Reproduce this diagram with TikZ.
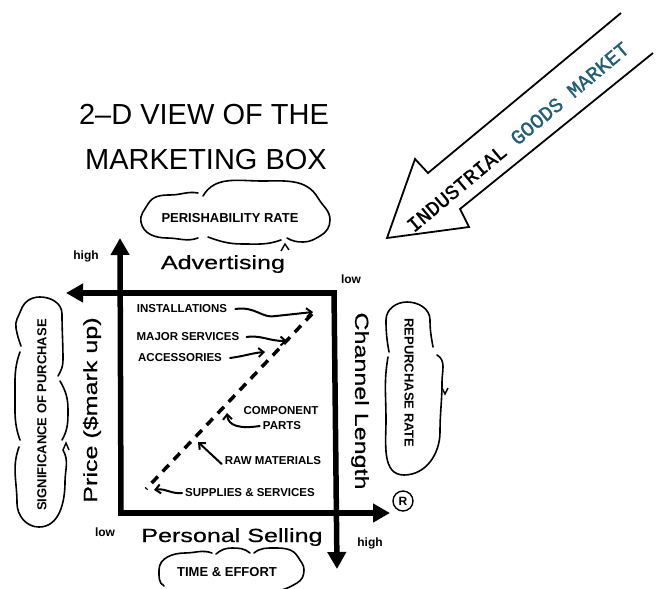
\documentclass[tikz,border=0pt]{standalone}
\usepackage{fontspec}
\setmainfont{Liberation Sans}
\newfontfamily\labelfont[FakeStretch=1.32,FakeBold=0.6]{Liberation Sans}
\newfontfamily\typefont[FakeBold=1.2]{Liberation Mono}
\usetikzlibrary{arrows.meta}
\definecolor{tealink}{RGB}{35,95,115}
\tikzset{
  axis/.style={line width=5.5pt, -{Triangle[length=17pt,width=18pt]}},
  cloudline/.style={line width=1.6pt, line cap=round},
  itemarrow/.style={line width=2pt, line cap=round, -{Straight Barb[length=5pt,width=9pt]}},
  smalltxt/.style={font=\bfseries\fontsize{12}{12}\selectfont, inner sep=0pt},
  itemtxt/.style={font=\bfseries\fontsize{11.5}{12}\selectfont, inner sep=0pt},
  cloudtxt/.style={font=\bfseries\fontsize{13}{13}\selectfont, inner sep=0pt},
  biglabel/.style={font=\labelfont\fontsize{19}{19}\selectfont, inner sep=0pt},
  titletxt/.style={font=\fontsize{29}{29}\selectfont, inner sep=0pt},
  bigarrow/.style={line width=1.8pt, line join=miter},
}
\begin{document}
\begin{tikzpicture}[x=1pt,y=-1pt]
\useasboundingbox (0,0) rectangle (660,588);

% title
\node[titletxt] (title1) at (204,115) {2--D VIEW OF THE};
\node[titletxt] (title2) at (206,160) {MARKETING BOX};

% box corners and arrow tips
\coordinate (TL) at (121,293);
\coordinate (TR) at (334,293);
\coordinate (TRs) at (334,290.25);
\coordinate (BL) at (121,513);
\coordinate (BLs) at (121,515.75);
\coordinate (BLh) at (118.25,513);
\coordinate (upTip) at (120,238);
\coordinate (leftTip) at (66,293);
\coordinate (rightTip) at (390,513);
\coordinate (downTip) at (337,569);
\coordinate (TRh) at (336.75,293);

\draw[axis] (TRh) -- (leftTip);
\draw[axis] (BLs) -- (upTip);
\draw[axis] (BLh) -- (rightTip);
\draw[axis] (TRs) -- (downTip);

% axis labels
\node[smalltxt] (highL) at (86,256) {high};
\node[smalltxt] (lowR) at (351,279) {low};
\node[smalltxt] (lowL) at (105,532) {low};
\node[smalltxt] (highR) at (370,543) {high};
\node[biglabel, anchor=base] (adv) at (223,269) {Advertising};
\node[biglabel, anchor=base] (pers) at (232,542) {Personal Selling};
\node[biglabel, rotate=-90] (chan) at (360,401) {Channel Length};
\node[biglabel, rotate=90] (price) at (92,410) {Price (\$mark up)};

% registered mark
\node[circle, draw, line width=1.4pt, minimum size=20pt, inner sep=0pt,
      font=\bfseries\fontsize{12}{12}\selectfont] (reg) at (403,501) {R};

% clouds: perishability
\node[cloudtxt] (perish) at (230,218) {PERISHABILITY RATE};
\draw[cloudline] (203,196) to[out=60,in=180] (262,181) to[out=0,in=120] (318,198)
  to[out=-60,in=90] (330,220) to[out=-90,in=30] (320,236) to[out=-150,in=0] (303,242)
  to[out=180,in=-30] (287,238);
\draw[cloudline] (281,240) to[out=-160,in=0] (243,244) to[out=180,in=-20] (208,237);
\draw[cloudline] (198,238) to[out=-160,in=0] (167,238) to[out=180,in=-80] (141,222)
  to[out=100,in=-120] (148,204) to[out=60,in=180] (170,195) to[out=0,in=170] (198,193);
\draw[line width=1.4pt] (281,251) -- (285,244) -- (289,250);

% clouds: significance of purchase
\node[cloudtxt, rotate=90] (signif) at (42,415) {SIGNIFICANCE OF PURCHASE};
\draw[cloudline] (21,346) to[out=110,in=-80] (16,328) to[out=100,in=-110] (21,310)
  to[out=70,in=180] (40,297) to[out=0,in=90] (62,314) to[out=-90,in=90] (63,360)
  to[out=-90,in=60] (58,376);
\draw[cloudline] (60,381) to[out=-60,in=90] (68,410) to[out=-90,in=60] (62,440);
\draw[cloudline] (63,450) to[out=-60,in=90] (65,482) to[out=-90,in=0] (39,527)
  to[out=180,in=-90] (17,503) to[out=90,in=-110] (19,447);
\draw[cloudline] (20,440) to[out=110,in=-90] (15,396) to[out=90,in=-110] (20,352);
\draw[line width=1.4pt] (63,450) -- (66,443) -- (69,450);

% clouds: repurchase rate
\node[cloudtxt, rotate=-90] (repur) at (409,383) {REPURCHASE RATE};
\draw[cloudline] (389,352) to[out=100,in=-90] (386,320) to[out=90,in=180] (407,302)
  to[out=0,in=90] (430,320) to[out=-90,in=100] (433,347);
\draw[cloudline] (437,355) to[out=-30,in=90] (442,382) to[out=-90,in=90] (440,432)
  to[out=-90,in=0] (404,475) to[out=180,in=-90] (386,420) to[out=90,in=-100] (388,357);
\draw[line width=1.4pt] (442,388) -- (445,394) -- (448,388);

% clouds: time & effort
\node[cloudtxt] (time) at (227,572) {TIME \& EFFORT};
\draw[cloudline] (164,586) to[out=150,in=-90] (159,570) to[out=90,in=180] (185,553)
  to[out=0,in=160] (212,553);
\draw[cloudline] (216,554) to[out=40,in=180] (232,548) to[out=0,in=140] (250,553);
\draw[cloudline] (254,553) to[out=40,in=180] (275,548) to[out=0,in=120] (298,557)
  to[out=-60,in=90] (304,570) to[out=-90,in=30] (297,583) to[out=-150,in=0] (272,591);

% items in the box
\node[itemtxt] (inst) at (182,309) {INSTALLATIONS};
\node[itemtxt] (major) at (188,337) {MAJOR SERVICES};
\node[itemtxt] (access) at (180,358) {ACCESSORIES};
\node[itemtxt] (comp) at (281,411) {COMPONENT};
\node[itemtxt] (parts) at (282,426) {PARTS};
\node[itemtxt] (raw) at (273,461) {RAW MATERIALS};
\node[itemtxt] (supp) at (250,493) {SUPPLIES \& SERVICES};

\coordinate (dTop) at (312,314);
\coordinate (dBot) at (146,489);
\draw[line width=3.5pt, dash pattern=on 9pt off 7pt] (dTop) -- (dBot);

\coordinate (instTip) at (313,312);
\coordinate (majorTip) at (287,341);
\coordinate (accTip) at (265,352);
\coordinate (compTip) at (227,413);
\coordinate (rawTip) at (198,442);
\coordinate (suppTip) at (154,490);

\draw[itemarrow] ([xshift=8pt]inst.east) .. controls (256,306) and (262,319) .. (276,316) -- (instTip);
\draw[itemarrow] ([xshift=7pt]major.east) .. controls (262,335) and (268,341) .. (majorTip);
\draw[itemarrow] ([xshift=8pt]access.east) .. controls (245,356) and (252,353) .. (accTip);
\draw[itemarrow] ([xshift=-3pt]parts.west) .. controls (240,429) and (228,426) .. (compTip);
\draw[itemarrow] ([xshift=-3pt,yshift=-3pt]raw.west) -- (rawTip);
\draw[itemarrow] ([xshift=-3pt]supp.west) .. controls (170,494) and (166,488) .. (suppTip);

% industrial goods market arrow
\coordinate (A1) at (621,13);
\coordinate (A2) at (428,173);
\coordinate (A3) at (415,159);
\coordinate (A4) at (387,238);
\coordinate (A5) at (469,227);
\coordinate (A6) at (460,209);
\coordinate (A7) at (653,53);
\draw[bigarrow] (A1) -- (A2) -- (A3) -- (A4) -- (A5) -- (A6) -- (A7);
\node[font=\typefont\fontsize{20.5}{20.5}\selectfont, rotate=40, inner sep=0pt] (igm)
  at (518,137) {INDUSTRIAL \textcolor{tealink}{GOODS MARKET}};
\end{tikzpicture}
\end{document}
